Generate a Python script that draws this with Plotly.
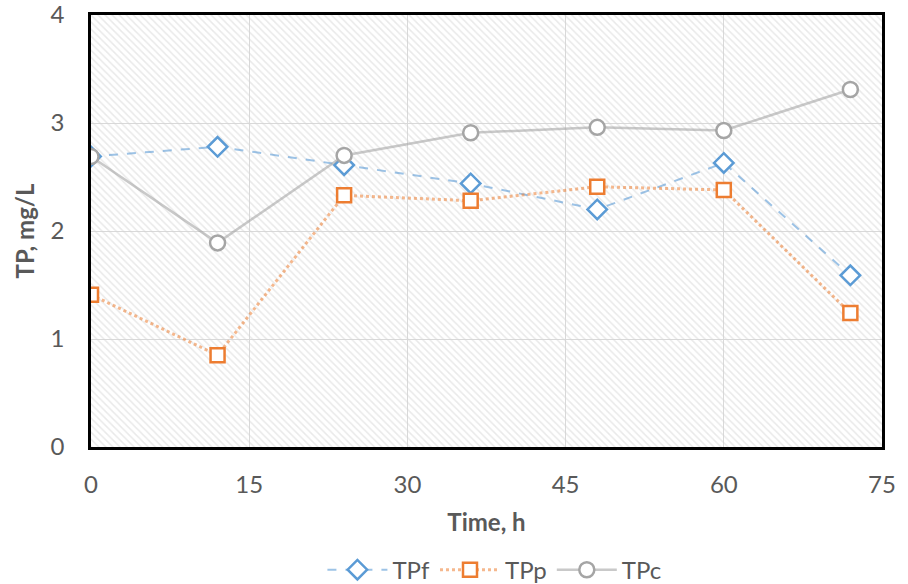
import plotly.graph_objects as go

# Sampling times (h) and total phosphorus concentrations (mg/L)
time_h = [0, 12, 24, 36, 48, 60, 72]
tp_f = [2.69, 2.78, 2.61, 2.44, 2.20, 2.63, 1.59]
tp_p = [1.41, 0.85, 2.33, 2.28, 2.41, 2.38, 1.24]
tp_c = [2.69, 1.89, 2.70, 2.91, 2.96, 2.93, 3.31]

x_ticks = [0, 15, 30, 45, 60, 75]
y_ticks = [0, 1, 2, 3, 4]
x_range = [0, 75]
y_range = [0, 4]

FONT = "Lato, 'Open Sans', sans-serif"
TEXT = "#595959"

fig = go.Figure()

# hatched plot-area background
fig.add_trace(go.Scatter(
    x=[x_range[0], x_range[1], x_range[1], x_range[0], x_range[0]],
    y=[y_range[0], y_range[0], y_range[1], y_range[1], y_range[0]],
    mode="lines", line=dict(width=0), fill="toself",
    fillcolor="rgba(0,0,0,0)",
    fillpattern=dict(shape="\\", size=5, solidity=0.3,
                     fgcolor="#d4d4d4", bgcolor="rgba(255,255,255,0)"),
    showlegend=False, hoverinfo="skip",
))

series = [
    ("TPf", tp_f, "#5b9bd5", "rgba(91,155,213,0.6)", "dash", "diamond", 2, 15),
    ("TPp", tp_p, "#ed7d31", "rgba(237,125,49,0.55)", "dot", "square", 3, 14),
    ("TPc", tp_c, "#a5a5a5", "rgba(165,165,165,0.6)", "solid", "circle", 2.5, 15),
]
for name, vals, col, lcol, dash, sym, lw, ms in series:
    fig.add_trace(go.Scatter(
        x=time_h, y=vals, name=name, mode="lines+markers",
        line=dict(color=lcol, width=lw, dash=dash),
        marker=dict(symbol=sym, size=ms, color="white",
                    line=dict(color=col, width=2.5)),
    ))

fig.update_layout(
    width=908, height=584,
    margin=dict(l=91, r=26, t=15, b=137, autoexpand=False),
    paper_bgcolor="white", plot_bgcolor="white",
    font=dict(family=FONT, size=24, color=TEXT),
    legend=dict(orientation="h", x=0.51, xanchor="center", y=-0.285,
                yanchor="middle", font=dict(size=24, color=TEXT),
                itemwidth=60, tracegroupgap=0),
    xaxis=dict(
        range=x_range, tickvals=x_ticks, showgrid=True, gridcolor="#d9d9d9",
        gridwidth=1, zeroline=False, showline=True, mirror=True,
        linecolor="black", linewidth=2.5, ticks="", ticklabelstandoff=14,
        ticklabeloverflow="allow", tickfont=dict(size=24),
        title=dict(text="<b>Time, h</b>", font=dict(size=24, color=TEXT),
                   standoff=18),
    ),
    yaxis=dict(
        range=y_range, tickvals=y_ticks, showgrid=True, gridcolor="#d9d9d9",
        gridwidth=1, zeroline=False, showline=True, mirror=True,
        linecolor="black", linewidth=2.5, ticks="", ticklabelstandoff=19,
        ticklabeloverflow="allow", tickfont=dict(size=24),
        title=dict(text="<b>TP, mg/L</b>", font=dict(size=24, color=TEXT),
                   standoff=10),
    ),
)

fig.write_html("out.html")
